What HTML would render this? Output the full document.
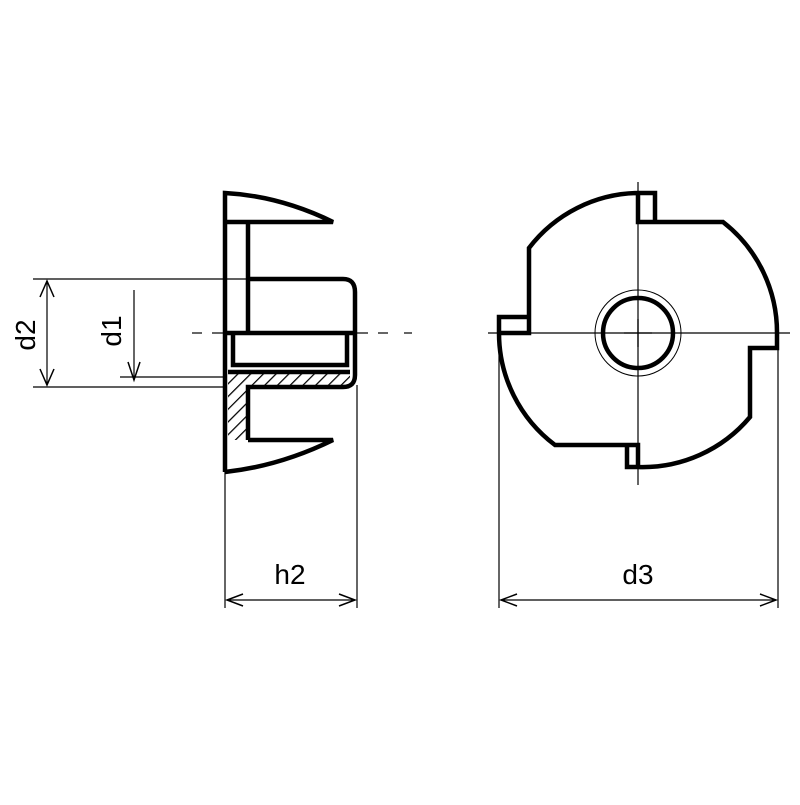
<!DOCTYPE html>
<html><head><style>html,body{margin:0;padding:0;background:#fff}</style></head>
<body>
<svg width="800" height="800" viewBox="0 0 800 800" xmlns="http://www.w3.org/2000/svg">
<defs>
<pattern id="h" width="9" height="9" patternUnits="userSpaceOnUse" patternTransform="rotate(45)">
<line x1="0" y1="0" x2="0" y2="9" stroke="#000" stroke-width="2.5"/>
</pattern>
</defs>
<rect width="800" height="800" fill="#fff"/>
<g fill="none" stroke="#000" stroke-width="1.2">
<line x1="33" y1="279" x2="248" y2="279"/>
<line x1="33" y1="387" x2="225" y2="387"/>
<line x1="47" y1="281" x2="47" y2="385"/>
<line x1="120" y1="377" x2="225" y2="377"/>
<line x1="134" y1="290" x2="134" y2="380"/>
<line x1="225" y1="470" x2="225" y2="608"/>
<line x1="357" y1="385" x2="357" y2="608"/>
<line x1="227" y1="600" x2="355" y2="600"/>
<line x1="499" y1="340" x2="499" y2="608"/>
<line x1="778" y1="345" x2="778" y2="608"/>
<line x1="501" y1="600" x2="776" y2="600"/>
<line x1="192" y1="333" x2="202" y2="333"/>
<line x1="212" y1="333" x2="225" y2="333"/>
<line x1="357" y1="333" x2="368" y2="333"/>
<line x1="378" y1="333" x2="388" y2="333"/>
<line x1="404" y1="333" x2="412" y2="333"/>
<line x1="488" y1="333" x2="790" y2="333"/>
<line x1="638" y1="182" x2="638" y2="485"/>
<circle cx="638" cy="333" r="43" stroke-width="1"/>
</g>
<g fill="none" stroke="#000" stroke-width="1.5">
<polyline points="40,297 47,281 54,297"/>
<polyline points="40,369 47,385 54,369"/>
<polyline points="128,362 134,380 140,362"/>
<polyline points="243,594 227,600 243,606"/>
<polyline points="339,594 355,600 339,606"/>
<polyline points="517,594 501,600 517,606"/>
<polyline points="760,594 776,600 760,606"/>
</g>
<path d="M228,372 H350 V387 H248 V440 H228 Z" fill="url(#h)"/>
<g fill="none" stroke="#000" stroke-width="4.5" stroke-linejoin="miter">
<path d="M225,472 V193 Q280,196 333,222 H225"/>
<path d="M248,222 V333"/>
<path d="M248,279 H343 Q355,279 355,292 V375 Q355,387 343,387 H248 V440"/>
<path d="M225,333 H355"/>
<path d="M233,335 V365 H347 V335"/>
<path d="M228,372 H350"/>
<path d="M248,440 H333 Q280,466 225,472"/>
<path d="M638,193 H655 V222 H723 A140,140 0 0 1 777,333 V348 H750 V417 A140,140 0 0 1 638,467 H627 V445 H638 V467 M627,445 H555 A140,140 0 0 1 499,333 V317 H529 V333 H500 M529,317 V248 A140,140 0 0 1 638,193 V222 H655"/>
<circle cx="638" cy="333" r="35"/>
</g>
<g stroke="#000" stroke-width="1.3">
<line x1="624" y1="333" x2="652" y2="333"/>
<line x1="638" y1="319" x2="638" y2="347"/>
</g>
<g font-family="Liberation Sans, sans-serif" font-size="28" fill="#000" text-anchor="middle">
<text x="290" y="584">h2</text>
<text x="638" y="584">d3</text>
<text transform="translate(35,335) rotate(-90)">d2</text>
<text transform="translate(121,331) rotate(-90)">d1</text>
</g>
</svg>
</body></html>
